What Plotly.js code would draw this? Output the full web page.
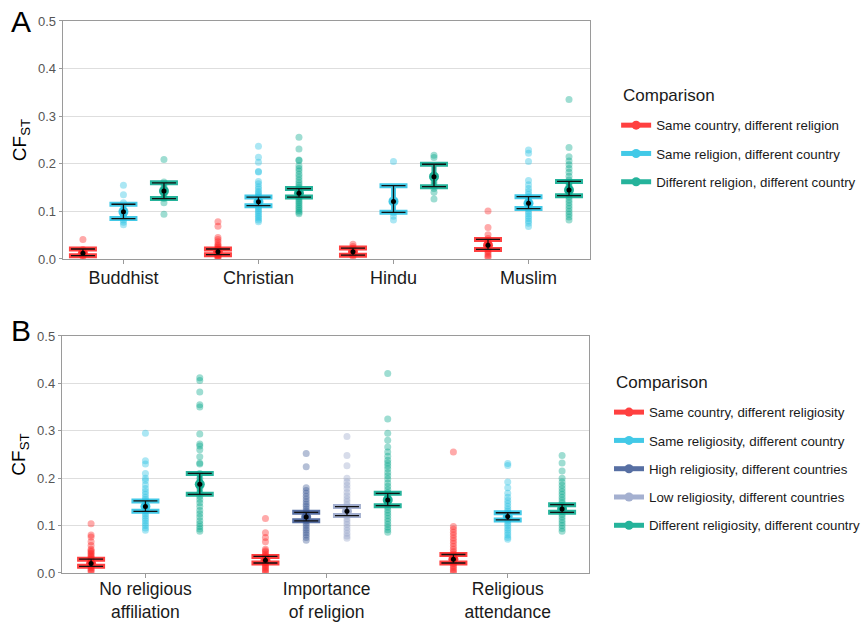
<!DOCTYPE html>
<html>
<head>
<meta charset="utf-8">
<script src="https://cdn.plot.ly/plotly-3.0.1.min.js"></script>
<style>html,body{margin:0;padding:0;background:#fff;}#chart{width:865px;height:623px;}</style>
</head>
<body>
<div id="chart"></div>
<script>
// ---------- Panel A data ----------
const catsA = ['Buddhist', 'Christian', 'Hindu', 'Muslim'];
const groupsA = ['Same country, different religion', 'Same religion, different country', 'Different religion, different country'];

const ptsA_sameCountry = [
  [0.041, 0.02, 0.017, 0.015, 0.013, 0.011, 0.009, 0.007, 0.005],
  [0.078, 0.069, 0.045, 0.041, 0.036, 0.031, 0.028, 0.025, 0.022, 0.02, 0.018, 0.016, 0.014, 0.012, 0.01, 0.008, 0.006, 0.004, 0.003],
  [0.031, 0.026, 0.022, 0.018, 0.014, 0.011, 0.008, 0.005],
  [0.101, 0.066, 0.051, 0.043, 0.038, 0.034, 0.03, 0.026, 0.022, 0.018, 0.014, 0.01, 0.006, 0.003]
];
const ptsA_sameReligion = [
  [0.155, 0.135, 0.118, 0.107, 0.1, 0.094, 0.088, 0.082, 0.077, 0.072],
  [0.237, 0.214, 0.203, 0.184, 0.183, 0.163, 0.158, 0.152, 0.147, 0.142, 0.138, 0.134, 0.13, 0.126, 0.122, 0.118, 0.114, 0.11, 0.106, 0.102, 0.098, 0.094, 0.09, 0.086, 0.082, 0.078],
  [0.205, 0.121, 0.097, 0.09, 0.082],
  [0.229, 0.222, 0.205, 0.165, 0.156, 0.148, 0.142, 0.136, 0.13, 0.125, 0.12, 0.115, 0.11, 0.105, 0.1, 0.095, 0.09, 0.085, 0.08, 0.075, 0.068]
];
const ptsA_diffBoth = [
  [0.209, 0.162, 0.152, 0.143, 0.135, 0.127, 0.118, 0.094],
  [0.256, 0.231, 0.208, 0.207, 0.196, 0.19, 0.185, 0.178, 0.172, 0.166, 0.16, 0.155, 0.15, 0.146, 0.142, 0.138, 0.134, 0.13, 0.126, 0.122, 0.118, 0.114, 0.11, 0.106, 0.102, 0.098, 0.095],
  [0.218, 0.213, 0.176, 0.16, 0.148, 0.14, 0.126],
  [0.335, 0.234, 0.215, 0.206, 0.198, 0.19, 0.182, 0.174, 0.166, 0.16, 0.154, 0.148, 0.142, 0.136, 0.13, 0.124, 0.118, 0.112, 0.106, 0.1, 0.094, 0.088, 0.082]
];
const meanA = [[0.012, 0.015, 0.015, 0.029], [0.099, 0.12, 0.121, 0.117], [0.143, 0.138, 0.173, 0.145]];
const lowA  = [[0.007, 0.009, 0.008, 0.02],  [0.085, 0.112, 0.098, 0.106], [0.127, 0.13, 0.152, 0.133]];
const highA = [[0.021, 0.021, 0.023, 0.041], [0.115, 0.13, 0.154, 0.131], [0.16, 0.148, 0.199, 0.163]];
const presentA = [[0, 1, 2, 3], [0, 1, 2, 3], [0, 1, 2, 3]];

// ---------- Panel B data ----------
const catsB = ['No religious<br>affiliation', 'Importance<br>of religion', 'Religious<br>attendance'];
const groupsB = ['Same country, different religiosity', 'Same religiosity, different country', 'High religiosity, different countries', 'Low religiosity, different countries', 'Different religiosity, different country'];

const ptsB_sameCountry = [
  [0.104, 0.08, 0.076, 0.066, 0.058, 0.05, 0.047, 0.044, 0.041, 0.038, 0.035, 0.032, 0.029, 0.026, 0.023, 0.02, 0.017, 0.014, 0.011, 0.008, 0.005, 0.002],
  [0.115, 0.085, 0.075, 0.066, 0.05, 0.047, 0.044, 0.04, 0.037, 0.034, 0.031, 0.028, 0.025, 0.022, 0.019, 0.016, 0.013, 0.01, 0.007, 0.004, 0.001],
  [0.255, 0.098, 0.092, 0.086, 0.08, 0.074, 0.068, 0.062, 0.056, 0.05, 0.045, 0.04, 0.036, 0.032, 0.028, 0.024, 0.02, 0.016, 0.012, 0.008, 0.004, 0.001]
];
const ptsB_sameReligiosity = [
  [0.295, 0.237, 0.23, 0.21, 0.2, 0.195, 0.186, 0.178, 0.172, 0.166, 0.16, 0.155, 0.15, 0.145, 0.14, 0.135, 0.13, 0.125, 0.12, 0.115, 0.11, 0.105, 0.1, 0.095, 0.09],
  [0.231, 0.227, 0.192, 0.18, 0.168, 0.16, 0.153, 0.147, 0.141, 0.135, 0.13, 0.125, 0.12, 0.115, 0.11, 0.105, 0.1, 0.095, 0.09, 0.085, 0.08, 0.075, 0.071]
];
const ptsB_high = [
  [0.252, 0.224, 0.18, 0.174, 0.168, 0.162, 0.156, 0.15, 0.145, 0.14, 0.135, 0.13, 0.125, 0.12, 0.115, 0.11, 0.105, 0.1, 0.095, 0.09, 0.085, 0.08, 0.075, 0.069]
];
const ptsB_low = [
  [0.288, 0.248, 0.226, 0.2, 0.192, 0.185, 0.178, 0.17, 0.163, 0.156, 0.15, 0.144, 0.138, 0.132, 0.126, 0.12, 0.114, 0.108, 0.102, 0.096, 0.09, 0.084, 0.078, 0.073]
];
const ptsB_diffBoth = [
  [0.412, 0.406, 0.382, 0.355, 0.35, 0.293, 0.272, 0.268, 0.26, 0.245, 0.232, 0.23, 0.21, 0.2, 0.192, 0.185, 0.178, 0.17, 0.162, 0.155, 0.148, 0.14, 0.132, 0.125, 0.118, 0.11, 0.104, 0.098, 0.093, 0.088],
  [0.421, 0.325, 0.295, 0.28, 0.266, 0.255, 0.246, 0.238, 0.232, 0.226, 0.22, 0.212, 0.205, 0.198, 0.19, 0.183, 0.176, 0.17, 0.163, 0.157, 0.151, 0.145, 0.139, 0.133, 0.127, 0.121, 0.115, 0.109, 0.103, 0.097, 0.091, 0.086],
  [0.248, 0.232, 0.215, 0.2, 0.192, 0.185, 0.178, 0.172, 0.166, 0.16, 0.154, 0.148, 0.142, 0.136, 0.13, 0.124, 0.118, 0.112, 0.106, 0.1, 0.094, 0.088]
];
const meanB = [[0.02, 0.027, 0.029], [0.14, 0.119], [0.118], [0.13], [0.187, 0.154, 0.135]];
const lowB  = [[0.014, 0.021, 0.021], [0.13, 0.112], [0.11], [0.121], [0.166, 0.142, 0.128]];
const highB = [[0.029, 0.035, 0.039], [0.152, 0.127], [0.128], [0.14], [0.21, 0.168, 0.144]];
const presentB = [[0, 1, 2], [0, 2], [1], [1], [0, 1, 2]];

const legendTitle = 'Comparison';
const yTitle = 'CF<sub>ST</sub>';

// ---------- styles ----------
const colRed = '#FF1F1F', colCyan = '#22C0E3', colTeal = '#00A68A', colHigh = '#3A5794', colLow = '#95A3C8';
const colorsA = [colRed, colCyan, colTeal];
const colorsB = [colRed, colCyan, colHigh, colLow, colTeal];

const traces = [];

function addPanel(groups, pts, means, lows, highs, present, colors, xa, ya, legendId) {
  function xpos(g, c) {
    const inCat = [];
    for (let k = 0; k < groups.length; k++) if (present[k].indexOf(c) >= 0) inCat.push(k);
    const n = inCat.length, i = inCat.indexOf(g);
    return (c + 1) + (i - (n - 1) / 2) * 0.9 / n;
  }
  for (let g = 0; g < groups.length; g++) {
    const px = [], py = [];
    present[g].forEach(function (c, j) {
      pts[g][j].forEach(function (v) { px.push(xpos(g, c)); py.push(v); });
    });
    traces.push({
      type: 'scatter', mode: 'markers', x: px, y: py, xaxis: xa, yaxis: ya,
      marker: { color: colors[g], size: 7, opacity: 0.38, line: { width: 0 } },
      showlegend: false, hoverinfo: 'skip'
    });
  }
  for (let g = 0; g < groups.length; g++) {
    const mx = present[g].map(function (c) { return xpos(g, c); });
    const up = means[g].map(function (m, j) { return highs[g][j] - m; });
    const dn = means[g].map(function (m, j) { return m - lows[g][j]; });
    traces.push({
      type: 'scatter', mode: 'markers', x: mx, y: means[g], xaxis: xa, yaxis: ya,
      marker: { color: colors[g], size: 10 },
      error_y: { type: 'data', symmetric: false, array: up, arrayminus: dn, color: colors[g], thickness: 5, width: 14 },
      opacity: 0.85, showlegend: false, hoverinfo: 'skip'
    });
    traces.push({
      type: 'scatter', mode: 'markers', x: mx, y: means[g], xaxis: xa, yaxis: ya,
      marker: { color: '#000', size: 5 },
      error_y: { type: 'data', symmetric: false, array: up, arrayminus: dn, color: '#111', thickness: 1.3, width: 12 },
      showlegend: false, hoverinfo: 'skip'
    });
  }
  for (let g = 0; g < groups.length; g++) {
    traces.push({
      type: 'scatter', mode: 'lines+markers', x: [null], y: [null], xaxis: xa, yaxis: ya,
      name: groups[g], legend: legendId, legendgroup: legendId + g,
      line: { color: colors[g], width: 5 }, marker: { color: colors[g], size: 9 },
      opacity: 0.85, showlegend: true, hoverinfo: 'skip'
    });
  }
}

addPanel(groupsA, [ptsA_sameCountry, ptsA_sameReligion, ptsA_diffBoth], meanA, lowA, highA, presentA, colorsA, 'x', 'y', 'legend');
addPanel(groupsB, [ptsB_sameCountry, ptsB_sameReligiosity, ptsB_high, ptsB_low, ptsB_diffBoth], meanB, lowB, highB, presentB, colorsB, 'x2', 'y2', 'legend2');

const fontFam = 'Liberation Sans, Arial, sans-serif';
function xAxis(domain, anchor, range, cats, fsize, standoff) {
  return {
    domain: domain, anchor: anchor, range: range,
    tickmode: 'array', tickvals: cats.map(function (c, i) { return i + 1; }), ticktext: cats,
    showgrid: false, zeroline: false, showline: true, mirror: true, linecolor: '#9A9A9A', linewidth: 1,
    ticks: 'outside', ticklen: 4, tickcolor: '#9A9A9A', ticklabelstandoff: standoff,
    tickfont: { family: fontFam, size: fsize, color: '#1A1A1A' }, fixedrange: true
  };
}
function yAxis(domain, anchor) {
  return {
    domain: domain, anchor: anchor, range: [0, 0.5], tickmode: 'linear', tick0: 0, dtick: 0.1, tickformat: '.1f',
    showgrid: true, gridcolor: '#DEDEDE', gridwidth: 1, zeroline: false,
    showline: true, mirror: true, linecolor: '#9A9A9A', linewidth: 1,
    ticks: 'outside', ticklen: 3, tickcolor: '#9A9A9A',
    tickfont: { family: fontFam, size: 13, color: '#555' },
    title: { text: yTitle, font: { family: fontFam, size: 19, color: '#000' }, standoff: 6 },
    fixedrange: true
  };
}
function legendBox(x, y) {
  return {
    x: x, y: y, xanchor: 'left', yanchor: 'top', bgcolor: 'rgba(0,0,0,0)',
    font: { family: fontFam, size: 13.3, color: '#1A1A1A' }, tracegroupgap: 8, itemwidth: 30
  };
}

const layout = {
  width: 865, height: 623,
  margin: { l: 0, r: 0, t: 0, b: 0 },
  paper_bgcolor: '#fff', plot_bgcolor: '#fff',
  font: { family: fontFam },
  showlegend: true,
  xaxis: xAxis([0.0728, 0.6855], 'y', [0.55, 4.457], catsA, 18, -2),
  yaxis: yAxis([0.5843, 0.9663], 'x'),
  xaxis2: xAxis([0.0717, 0.6844], 'y2', [0.538, 3.45], catsB, 17.5, -4),
  yaxis2: yAxis([0.0803, 0.4607], 'x2'),
  legend: legendBox(0.7156, 0.8234),
  legend2: legendBox(0.7075, 0.3628),
  annotations: [
    { text: 'A', xref: 'paper', yref: 'paper', x: 0.011, y: 0.995, xanchor: 'left', yanchor: 'top', showarrow: false, font: { family: fontFam, size: 30, color: '#000' } },
    { text: 'B', xref: 'paper', yref: 'paper', x: 0.011, y: 0.5, xanchor: 'left', yanchor: 'top', showarrow: false, font: { family: fontFam, size: 30, color: '#000' } },
    { text: legendTitle, xref: 'paper', yref: 'paper', x: 624 / 865, y: 1 - 96 / 623, xanchor: 'left', yanchor: 'middle', showarrow: false, font: { family: fontFam, size: 17, color: '#1A1A1A' } },
    { text: legendTitle, xref: 'paper', yref: 'paper', x: 617 / 865, y: 1 - 382 / 623, xanchor: 'left', yanchor: 'middle', showarrow: false, font: { family: fontFam, size: 17, color: '#1A1A1A' } }
  ]
};

Plotly.newPlot('chart', traces, layout, { displayModeBar: false, staticPlot: true });
</script>
</body>
</html>
